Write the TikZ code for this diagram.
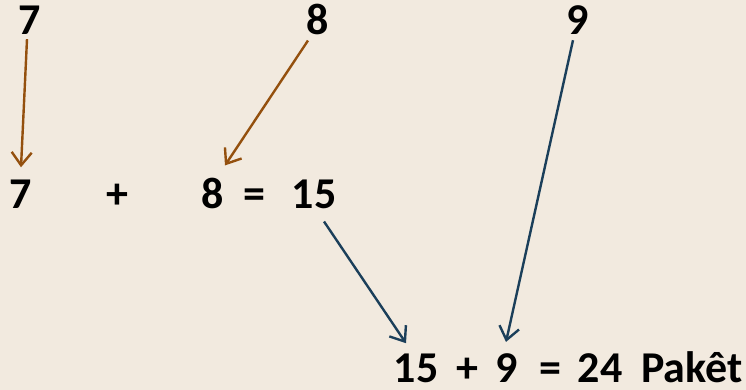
\documentclass[tikz,border=0pt]{standalone}
\usepackage{fontspec}
\setmainfont{Carlito}
\usetikzlibrary{arrows.meta,calc}
\definecolor{bg}{HTML}{F2EADF}
\definecolor{brn}{HTML}{94500E}
\definecolor{dblue}{HTML}{1B3F5A}
\begin{document}
\begin{tikzpicture}[x=1pt,y=-1pt,
  num/.style={inner sep=0pt,anchor=base,font=\fontsize{44}{44}\selectfont\bfseries},
  arr/.style={line width=2.4pt,-{Straight Barb[length=13pt,width=20pt,line width=2.4pt]}}]
\fill[bg] (0,0) rectangle (746,390);
\useasboundingbox (0,0) rectangle (746,390);
% top row
\node[num] (t7) at (30,35) {7};
\node[num] (t8) at (318,35) {8};
\node[num] (t9) at (578,35) {9};
% middle row
\node[num] (m7) at (21,208) {7};
\node[num] (mplus) at (117,208) {+};
\node[num] (m8) at (213,208) {8};
\node[num] (meq) at (254,208) {=};
\node[num] (m15) at (314,208) {15};
% bottom row
\node[num] (b15) at (416,382) {15};
\node[num] (bplus) at (467,382) {+};
\node[num] (b9) at (507,382) {9};
\node[num] (beq) at (550,382) {=};
\node[num] (b24) at (600,382) {24};
\node[num] (bp) at (692,382) {Pakêt};
% arrows
\draw[arr,brn] ($(t7.south)+(-3,4)$) -- ($(m7.north)+(0,-12)$);
\draw[arr,brn] ($(t8.south)+(-10,5)$) -- ($(m8.north)+(12,-12)$);
\draw[arr,dblue] ($(m15.south)+(10,13)$) -- ($(b15.north)+(-10,-10)$);
\draw[arr,dblue] ($(t9.south)+(-5,5)$) -- ($(b9.north)+(-1,-11)$);
\end{tikzpicture}
\end{document}
